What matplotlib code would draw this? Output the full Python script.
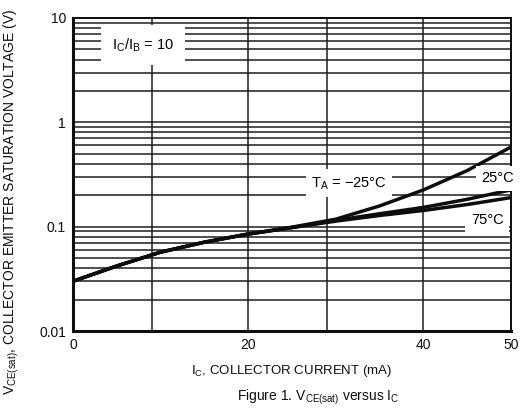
import matplotlib
matplotlib.use("Agg")
import matplotlib.pyplot as plt
from matplotlib.ticker import FixedLocator, NullFormatter, LogLocator

plt.rcParams["font.family"] = ["Liberation Sans", "DejaVu Sans"]

# ── Data ────────────────────────────────────────────────────────────────────
ic_ma = [0, 5, 10, 15, 20, 25, 30, 35, 40, 45, 50]
vce_m25 = [0.030, 0.042, 0.057, 0.071, 0.085, 0.099, 0.118, 0.158, 0.225, 0.345, 0.58]
vce_25 = [0.030, 0.042, 0.057, 0.071, 0.085, 0.098, 0.115, 0.133, 0.153, 0.183, 0.225]
vce_75 = [0.030, 0.042, 0.057, 0.071, 0.085, 0.098, 0.113, 0.128, 0.143, 0.163, 0.19]

x_major = [0, 20, 40, 50]
x_minor = [9, 29]
y_major = [0.01, 0.1, 1, 10]
y_labels = ["0.01", "0.1", "1", "10"]

INK = "#0d0d0d"
GRID = "#1e1e1e"

fig = plt.figure(figsize=(5.28, 4.08), dpi=100)
ax = fig.add_axes([0.1383, 0.1887, 0.8295, 0.7672])

ax.set_yscale("log")
ax.set_xlim(0, 50)
ax.set_ylim(0.01, 10)

# curves
for v in (vce_75, vce_25, vce_m25):
    ax.plot(ic_ma, v, color=INK, linewidth=2.5, solid_capstyle="butt", zorder=4)

# grid
ax.xaxis.set_major_locator(FixedLocator(x_major))
ax.xaxis.set_minor_locator(FixedLocator(x_minor))
ax.yaxis.set_major_locator(FixedLocator(y_major))
ax.yaxis.set_minor_locator(LogLocator(base=10, subs=range(2, 10)))
ax.yaxis.set_minor_formatter(NullFormatter())
ax.set_yticklabels(y_labels)
ax.set_xticklabels([str(x) for x in x_major])
ax.grid(which="both", axis="both", color=GRID, linewidth=1.1, zorder=1)
ax.tick_params(which="both", length=0, labelsize=10, colors=INK, pad=5)

for side in ("left", "bottom"):
    ax.spines[side].set_linewidth(2.2)
for side in ("top", "right"):
    ax.spines[side].set_linewidth(1.4)
for s in ax.spines.values():
    s.set_color(INK)

# labels inside the plot
box = dict(facecolor="white", edgecolor="none", pad=4)
ax.text(8.0, 5.5, r"I$_\mathregular{C}$/I$_\mathregular{B}$ = 10", fontsize=10.5,
        ha="center", va="center", bbox=dict(facecolor="white", edgecolor="none", pad=8), zorder=5)
ax.text(31.5, 0.26, r"T$_\mathregular{A}$ = −25°C", fontsize=10.5, ha="center", va="center",
        bbox=box, zorder=5)
ax.text(48.5, 0.29, "25°C", fontsize=10.5, ha="center", va="center", bbox=box, zorder=5)
ax.text(47.3, 0.117, "75°C", fontsize=10.5, ha="center", va="center", bbox=box, zorder=5)

ax.set_xlabel(r"I$_\mathregular{C}$, COLLECTOR CURRENT (mA)", fontsize=9.5, color=INK, labelpad=8)
fig.text(0.022, 0.505,
         r"V$_\mathregular{CE(sat)}$, COLLECTOR EMITTER SATURATION VOLTAGE (V)",
         rotation=90, fontsize=10, color=INK, ha="center", va="center")

fig.text(0.602, 0.003, r"Figure 1. V$_\mathregular{CE(sat)}$ versus I$_\mathregular{C}$",
         fontsize=10, color=INK, ha="center", va="bottom")

fig.savefig("out.png", dpi=100, facecolor="white")
